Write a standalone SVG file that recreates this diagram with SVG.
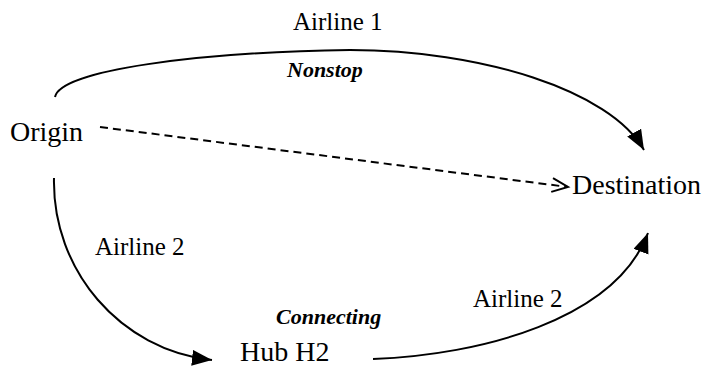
<svg xmlns="http://www.w3.org/2000/svg" width="709" height="366" viewBox="0 0 709 366">
<style>
text{font-family:'Liberation Serif','Times New Roman',Times,serif;fill:#000}
.node{font-size:28px}
.lbl{font-size:25px}
.em{font-size:22px;font-weight:bold;font-style:italic}
.edge{fill:none;stroke:#000;stroke-width:2}
</style>
<defs>
<marker id="tri" markerUnits="userSpaceOnUse" markerWidth="22" markerHeight="18" refX="20" refY="8" orient="auto">
<path d="M0,0 L20,8 L0,16 Z" fill="#000"/>
</marker>
<marker id="chev" markerUnits="userSpaceOnUse" markerWidth="20" markerHeight="18" refX="17" refY="8" orient="auto">
<path d="M1,1 L17,8 L1,15" fill="none" stroke="#000" stroke-width="2"/>
</marker>
</defs>
<g id="connectors">
<path class="edge" d="M55 97 C60 70 200 52 350 50 C480 50 610 90 644 150" marker-end="url(#tri)"/>
<path class="edge" d="M100 127 L568 187" stroke-dasharray="8 5" marker-end="url(#chev)"/>
<path class="edge" d="M54 178 C52 270 120 350 212 360" marker-end="url(#tri)"/>
<path class="edge" d="M373 359 C480 355 615 320 648 233" marker-end="url(#tri)"/>
</g>
<g id="origin"><text class="node" x="10" y="141" font-family="Liberation Serif">Origin</text></g>
<g id="destination"><text class="node" x="572" y="194" font-family="Liberation Serif">Destination</text></g>
<g id="hub"><text class="node" x="240" y="361" font-family="Liberation Serif">Hub H2</text></g>
<g id="labels">
<text class="lbl" x="293" y="30" font-family="Liberation Serif">Airline 1</text>
<text class="em" x="287" y="77" font-family="Liberation Serif">Nonstop</text>
<text class="lbl" x="95" y="255" font-family="Liberation Serif">Airline 2</text>
<text class="em" x="276" y="324" font-family="Liberation Serif">Connecting</text>
<text class="lbl" x="473" y="307" font-family="Liberation Serif">Airline 2</text>
</g>
</svg>
